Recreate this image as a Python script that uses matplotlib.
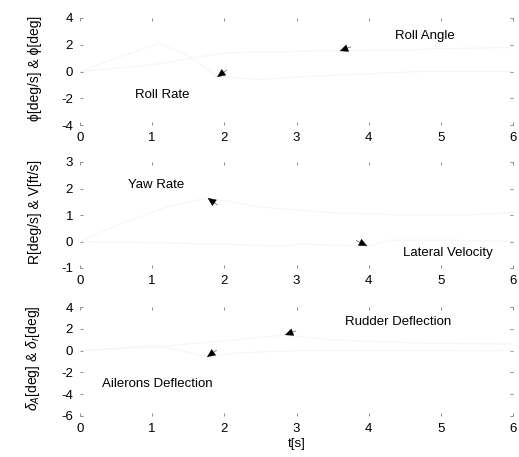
import matplotlib
matplotlib.use("Agg")
import matplotlib.pyplot as plt

plt.rcParams['font.family'] = ['Liberation Sans', 'DejaVu Sans']
plt.rcParams['mathtext.fontset'] = 'custom'
plt.rcParams['mathtext.rm'] = 'Liberation Sans'
plt.rcParams['mathtext.it'] = 'Liberation Sans:italic'
plt.rcParams['axes.unicode_minus'] = False

# time histories (scan is almost washed out, values read from the specks)
t_rate = [0, 0.5, 1.1, 1.5, 1.9, 2.5, 3.0, 3.9, 4.7, 5.1, 6.0]
roll_rate = [0, 1.0, 2.1, 1.2, -0.4, -0.6, -0.4, -0.2, 0.0, 0.0, 0.0]
t_angle = [0, 1.0, 2.0, 3.0, 3.6, 4.5, 5.0, 6.0]
roll_angle = [0, 0.5, 1.4, 1.5, 1.55, 1.6, 1.7, 1.8]

t_yaw = [0, 0.5, 1.2, 1.77, 2.5, 3.4, 4.5, 5.4, 6.0]
yaw_rate = [0, 0.6, 1.3, 1.65, 1.3, 1.1, 1.0, 1.0, 1.1]
t_v = [0, 1.0, 2.0, 2.8, 3.05, 3.98, 4.3, 4.65, 5.1, 6.0]
lat_vel = [0, -0.05, -0.1, -0.17, -0.1, -0.17, 0.05, 0.05, 0.05, 0.0]

t_ail = [0, 0.5, 1.0, 1.4, 1.76, 2.2, 3.0, 4.0, 6.0]
aileron = [0, 0.2, 0.5, 0.0, -0.6, -0.2, 0.0, 0.0, 0.0]
t_rud = [0, 1.0, 2.0, 2.84, 3.42, 3.84, 4.7, 6.0]
rudder = [0, 0.3, 0.9, 1.43, 1.0, 0.9, 0.7, 0.6]

# label text, text anchor, arrow tip, arrow tail direction (points)
ann1 = [('Roll Angle', (4.36, 2.65), (3.60, 1.53), (8, 3)),
        ('Roll Rate', (0.76, -1.76), (1.90, -0.41), (7, 5))]
ann2 = [('Yaw Rate', (0.67, 2.13), (1.77, 1.64), (7, -5)),
        ('Lateral Velocity', (4.48, -0.43), (3.98, -0.17), (-8, 4))]
ann3 = [('Rudder Deflection', (3.67, 2.62), (2.84, 1.43), (8, 3)),
        ('Ailerons Deflection', (0.30, -3.07), (1.76, -0.59), (7, 5))]

W, H = 519, 457
fig = plt.figure(figsize=(W / 100, H / 100), dpi=100)
left, width = 80 / W, 433 / W
ax1 = fig.add_axes([left, 1 - 125 / H, width, 107 / H])
ax2 = fig.add_axes([left, 1 - 268 / H, width, 106 / H])
ax3 = fig.add_axes([left, 1 - 416 / H, width, 109 / H])

faint = '#f6f6f6'
ax1.plot(t_rate, roll_rate, color=faint, lw=0.8)
ax1.plot(t_angle, roll_angle, color=faint, lw=0.8)
ax2.plot(t_yaw, yaw_rate, color=faint, lw=0.8)
ax2.plot(t_v, lat_vel, color=faint, lw=0.8)
ax3.plot(t_ail, aileron, color=faint, lw=0.8)
ax3.plot(t_rud, rudder, color=faint, lw=0.8)

ax1.set_ylim(-4, 4)
ax1.set_yticks([-4, -2, 0, 2, 4])
ax2.set_ylim(-1, 3)
ax2.set_yticks([-1, 0, 1, 2, 3])
ax3.set_ylim(-6, 4)
ax3.set_yticks([-6, -4, -2, 0, 2, 4])

for ax, anns in [(ax1, ann1), (ax2, ann2), (ax3, ann3)]:
    ax.set_xlim(0, 6)
    ax.set_xticks(range(7))
    for s in ax.spines.values():
        s.set_visible(False)
    ax.tick_params(direction='in', length=2, width=0.6, color='#777777',
                   top=True, right=True, labelsize=9.5, pad=5)
    for label, txt, tip, off in anns:
        ax.text(txt[0], txt[1], label, fontsize=9.5, va='center', ha='left')
        ax.annotate('', xy=tip, xytext=off, textcoords='offset points',
                    arrowprops=dict(arrowstyle='-|>,head_length=0.55,head_width=0.25',
                                    color='black', lw=0.3, shrinkA=0, shrinkB=0))

ax1.set_ylabel('ϕ[deg/s] & ϕ[deg]', fontsize=10)
ax2.set_ylabel('R[deg/s] & V[ft/s]', fontsize=10)
ax3.set_ylabel(r'$\delta_A\left[\mathrm{deg}\right]$ & $\delta_r\left[\mathrm{deg}\right]$', fontsize=10)
for ax in (ax1, ax2, ax3):
    ax.yaxis.set_label_coords(-0.088, 0.53)
ax3.set_xlabel('t[s]', fontsize=9.5, labelpad=2)

fig.savefig('out.png', dpi=100)
